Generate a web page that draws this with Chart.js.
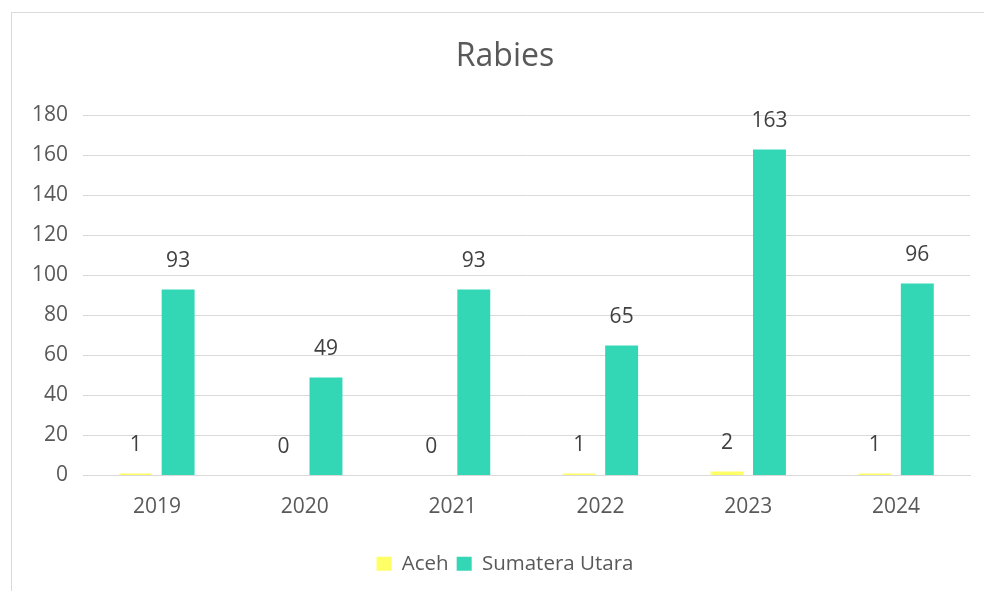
<!DOCTYPE html>
<html>
<head>
<meta charset="utf-8">
<script src="https://cdn.jsdelivr.net/npm/chart.js@4.4.0/dist/chart.umd.min.js"></script>
<style>
  html, body { margin: 0; padding: 0; background: #fff; overflow: hidden; }
  #frame { position: absolute; left: 11px; top: 12px; width: 990px; height: 600px; border: 1px solid #d9d9d9; }
  #wrap { position: absolute; left: 0; top: 0; width: 984px; height: 591px; }
</style>
</head>
<body>
<div id="frame"></div>
<div id="wrap"><canvas id="barChart"></canvas></div>
<script>
var years = ['2019', '2020', '2021', '2022', '2023', '2024'];
var aceh = [1, 0, 0, 1, 2, 1];
var sumut = [93, 49, 93, 65, 163, 96];
var yTicks = [0, 20, 40, 60, 80, 100, 120, 140, 160, 180];

var textColor = '#595959';
var fontFamily = '"Open Sans", sans-serif';

// labels above each bar, like the excel "outside end" labels
var valueLabels = {
    id: 'valueLabels',
    afterDatasetsDraw: function(chart) {
        var ctx = chart.ctx;
        ctx.save();
        ctx.font = '21px ' + fontFamily;
        ctx.fillStyle = '#404040';
        ctx.textAlign = 'center';
        ctx.textBaseline = 'middle';
        chart.data.datasets.forEach(function(ds, i) {
            chart.getDatasetMeta(i).data.forEach(function(bar, j) {
                ctx.fillText(String(ds.data[j]), bar.x, bar.y - 28);
            });
        });
        ctx.restore();
    }
};

// excel centres title and legend a bit right of the canvas middle
var shiftBlocks = {
    id: 'shiftBlocks',
    afterLayout: function(chart) {
        [chart.titleBlock, chart.legend].forEach(function(b) {
            if (!b) return;
            b.left += 40;
            b.width = b.right - b.left;
        });
    }
};

var ctx = document.getElementById('barChart').getContext('2d');
new Chart(ctx, {
    type: 'bar',
    data: {
        labels: years,
        datasets: [{
            label: 'Aceh',
            data: aceh,
            backgroundColor: '#ffff66',
            categoryPercentage: 0.574,
            barPercentage: 0.776
        }, {
            label: 'Sumatera Utara',
            data: sumut,
            backgroundColor: '#33d6b5',
            categoryPercentage: 0.574,
            barPercentage: 0.776
        }]
    },
    options: {
        responsive: true,
        maintainAspectRatio: false,
        animation: false,
        layout: { padding: { left: 0, right: 14, top: 0, bottom: 7 } },
        plugins: {
            title: {
                display: true,
                text: 'Rabies',
                color: textColor,
                font: { family: fontFamily, size: 32, weight: 'normal' },
                padding: { top: 38, bottom: 39 }
            },
            legend: {
                position: 'bottom',
                labels: {
                    color: textColor,
                    font: { family: fontFamily, size: 20.5 },
                    boxWidth: 15,
                    boxHeight: 14,
                    padding: 8
                }
            },
            tooltip: { enabled: false }
        },
        scales: {
            x: {
                grid: { display: false, drawTicks: false },
                border: { color: '#d9d9d9' },
                ticks: { color: textColor, font: { family: fontFamily, size: 21 }, padding: 19 },
                afterFit: function(scale) { scale.height = 70; }
            },
            y: {
                min: 0,
                max: 180,
                afterBuildTicks: function(scale) {
                    scale.ticks = yTicks.map(function(v) { return { value: v }; });
                },
                grid: { color: '#d9d9d9', drawTicks: false },
                border: { display: false },
                ticks: { color: textColor, font: { family: fontFamily, size: 21 }, padding: 15 },
                afterFit: function(scale) { scale.width = 83; }
            }
        }
    },
    plugins: [valueLabels, shiftBlocks]
});
</script>
</body>
</html>
